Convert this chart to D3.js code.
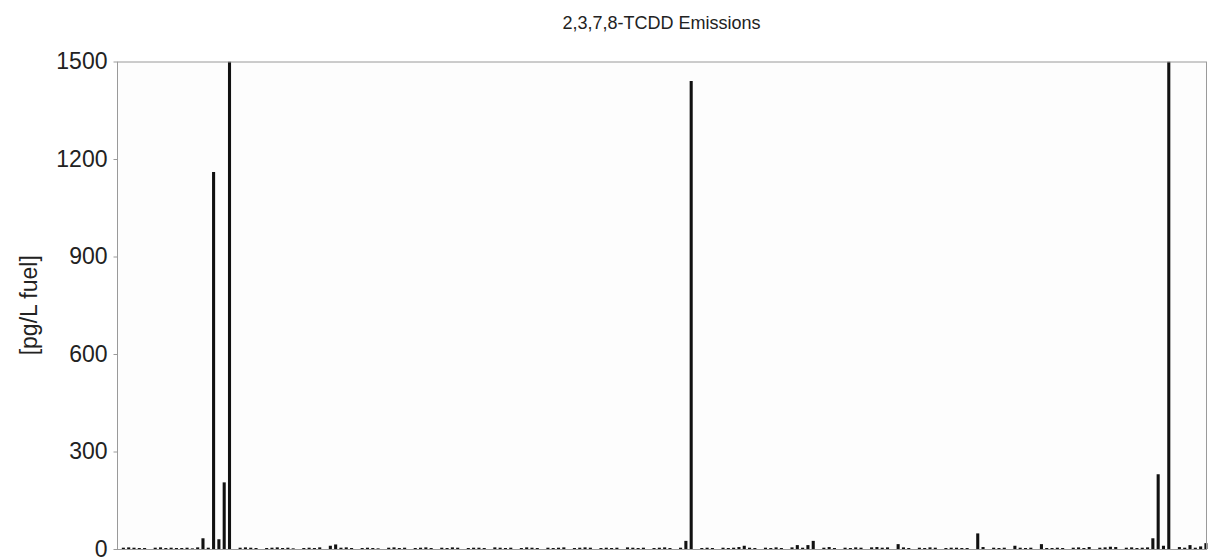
<!DOCTYPE html>
<html>
<head>
<meta charset="utf-8">
<script src="https://cdn.jsdelivr.net/npm/d3@7"></script>
<style>
  html, body { margin: 0; padding: 0; background: #ffffff; }
  svg { display: block; font-family: "Liberation Sans", Arial, sans-serif; }
</style>
</head>
<body>
<svg id="chart" width="1209" height="558"></svg>
<script>
const title = "2,3,7,8-TCDD Emissions";
const yLabel = "[pg/L fuel]";
const yTicks = [0, 300, 600, 900, 1200, 1500];
const values = [
  0,4,5,4,3,3,0,4,5,3,
  4,3,3,4,2,5,33,4,1160,30,
  205,1600,0,4,5,4,3,0,3,4,
  5,3,4,2,0,3,4,3,5,0,
  10,14,4,5,3,0,3,4,3,2,
  0,4,5,3,4,0,3,4,5,3,
  0,4,3,5,4,0,3,4,4,3,
  0,5,4,3,4,0,3,5,4,3,
  0,4,3,4,5,0,3,4,5,4,
  0,3,4,3,4,0,5,4,3,4,
  0,3,4,5,3,0,4,25,1440,0,
  3,4,3,0,4,3,4,6,10,4,
  3,0,4,3,5,3,0,5,12,4,
  12,25,0,4,6,3,0,4,3,5,
  4,0,5,6,4,5,0,15,5,3,
  0,4,3,5,4,0,3,4,4,3,
  3,0,48,6,0,4,3,4,0,10,
  4,3,4,0,15,3,3,4,3,0,
  4,5,3,6,0,4,5,7,6,0,
  4,5,3,4,5,33,230,10,1600,0,
  6,4,12,4,8,18
];
const categories = values.map((_, i) => i + 1);

const svg = d3.select("#chart");
const pL = 117, pR = 1206, pT = 61.5, pB = 549;

const x = d3.scaleBand().domain(categories).range([pL - 1, pR + 2]).paddingInner(0.42).paddingOuter(0.1);
const y = d3.scaleLinear().domain([0, 1500]).range([pB, pT]);

svg.append("rect").attr("x", pL).attr("y", pT).attr("width", pR - pL).attr("height", pB - pT)
  .attr("fill", "#fdfdfd");

svg.append("defs").append("clipPath").attr("id", "clip")
  .append("rect").attr("x", 0).attr("y", pT).attr("width", 1209).attr("height", pB - pT);

svg.append("g").attr("clip-path", "url(#clip)")
  .selectAll("rect").data(values).join("rect")
  .attr("x", (d, i) => x(categories[i]))
  .attr("width", x.bandwidth())
  .attr("y", d => y(Math.min(d, 1500)))
  .attr("height", d => pB - y(Math.min(d, 1500)))
  .attr("fill", "#111");

svg.append("rect").attr("x", pL + 0.5).attr("y", pT + 0.5).attr("width", pR - pL).attr("height", pB - pT)
  .attr("fill", "none").attr("stroke", "#9a9a9a").attr("stroke-width", 1);

const yAxis = d3.axisLeft(y).tickValues(yTicks).tickFormat(d3.format("d")).tickSize(4).tickPadding(6);
const gy = svg.append("g").attr("transform", `translate(${pL + 0.5},0)`).call(yAxis);
gy.select(".domain").remove();
gy.selectAll(".tick line").attr("stroke", "#9a9a9a");
gy.selectAll(".tick text").attr("font-size", 23).attr("fill", "#222")
  .attr("font-family", "'Liberation Sans', Arial, sans-serif");

svg.append("text").attr("x", (pL + pR) / 2).attr("y", 29).attr("text-anchor", "middle")
  .attr("font-size", 18).attr("fill", "#222").text(title);

svg.append("text").attr("transform", `translate(37,${(pT + pB) / 2}) rotate(-90)`)
  .attr("text-anchor", "middle").attr("font-size", 23).attr("fill", "#222").text(yLabel);
</script>
</body>
</html>
